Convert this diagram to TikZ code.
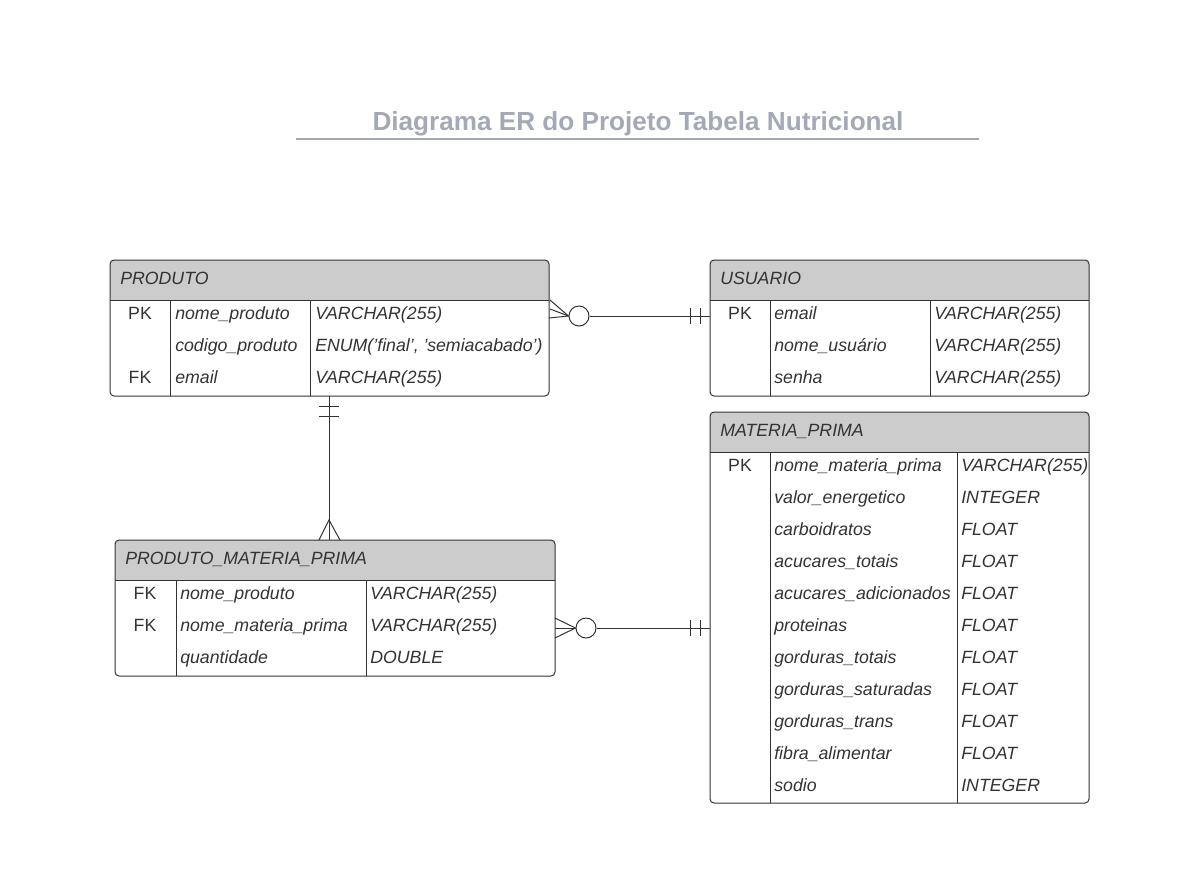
\documentclass[tikz,border=0pt]{standalone}
\usepackage{fontspec}
\setmainfont{Liberation Sans}
\usetikzlibrary{fit}
\definecolor{txt}{HTML}{333333}
\definecolor{lnc}{HTML}{333333}
\definecolor{hdrc}{HTML}{CCCCCC}
\definecolor{ttl}{HTML}{A3A9B5}
\tikzset{
  ln/.style={draw=lnc, line width=0.75pt},
  hdr/.style={fill=hdrc},
  frame/.style={draw=lnc, line width=0.75pt, rounded corners=3pt, inner sep=0pt},
  fld/.style={inner sep=0pt, text=txt, font=\fontsize{13.3}{16}\selectfont\itshape, anchor=base west},
  keyt/.style={inner sep=0pt, text=txt, font=\fontsize{13.3}{16}\selectfont, anchor=base},
  hdt/.style={inner sep=0pt, text=txt, font=\fontsize{13.3}{16}\selectfont\itshape, anchor=base west},
  zero/.style={circle, draw=lnc, line width=0.75pt, minimum size=15pt, inner sep=0pt, fill=white},
}
\newcommand\ertable[7]{%
  \fill[hdr] (#2,#3+40) [rounded corners=3pt] -- (#2,#3) -- (#4,#3) [sharp corners] -- (#4,#3+40) -- cycle;
  \node[frame, fit={(#2,#3)(#4,#5)}] (#1) {};
  \draw[ln] (#2,#3+40) -- (#4,#3+40);
  \draw[ln] (#6,#3+40) -- (#6,#5);
  \draw[ln] (#7,#3+40) -- (#7,#5);
}
\newcommand\tblrow[8]{%
  \node[keyt] (#1k) at (#3,#2+6) {#6};
  \node[fld] (#1n) at (#4,#2+6) {#7};
  \node[fld] (#1t) at (#5,#2+6) {#8};
}
\newcommand\sq{\char"27\relax}
\begin{document}
\begin{tikzpicture}[x=0.75pt,y=-0.75pt]
\useasboundingbox (0,0) rectangle (1181,886);
\fill[white] (0,0) rectangle (1181,886);

% title
\node[inner sep=0pt, text=ttl, font=\fontsize{19.6}{22}\selectfont\bfseries, anchor=base] (title) at (638,130) {Diagrama ER do Projeto Tabela Nutricional};
\coordinate (tl1) at (296,139);
\coordinate (tl2) at (979,139);
\draw[draw=ttl, line width=1.5pt] (tl1) -- (tl2);

% PRODUTO
\ertable{produto}{110}{260}{549}{396}{170}{310}
\node[hdt] (produtoh) at (120,284) {PRODUTO};
\tblrow{pa}{313}{140}{175}{315}{PK}{nome\_produto}{VARCHAR(255)}
\tblrow{pb}{345}{140}{175}{315}{}{codigo\_produto}{ENUM(\sq final\sq, \sq semiacabado\sq)}
\tblrow{pc}{377}{140}{175}{315}{FK}{email}{VARCHAR(255)}

% USUARIO
\ertable{usuario}{710}{260}{1089}{396}{770}{930}
\node[hdt] (usuarioh) at (720,284) {USUARIO};
\tblrow{ua}{313}{740}{774}{934}{PK}{email}{VARCHAR(255)}
\tblrow{ub}{345}{740}{774}{934}{}{nome\_usuário}{VARCHAR(255)}
\tblrow{uc}{377}{740}{774}{934}{}{senha}{VARCHAR(255)}

% MATERIA_PRIMA
\ertable{materia}{710}{412}{1089}{803}{770}{957}
\node[hdt] (materiah) at (720,436) {MATERIA\_PRIMA};
\tblrow{ma}{465}{740}{774}{961}{PK}{nome\_materia\_prima}{VARCHAR(255)}
\tblrow{mb}{497}{740}{774}{961}{}{valor\_energetico}{INTEGER}
\tblrow{mc}{529}{740}{774}{961}{}{carboidratos}{FLOAT}
\tblrow{md}{561}{740}{774}{961}{}{acucares\_totais}{FLOAT}
\tblrow{me}{593}{740}{774}{961}{}{acucares\_adicionados}{FLOAT}
\tblrow{mf}{625}{740}{774}{961}{}{proteinas}{FLOAT}
\tblrow{mg}{657}{740}{774}{961}{}{gorduras\_totais}{FLOAT}
\tblrow{mh}{689}{740}{774}{961}{}{gorduras\_saturadas}{FLOAT}
\tblrow{mi}{721}{740}{774}{961}{}{gorduras\_trans}{FLOAT}
\tblrow{mj}{753}{740}{774}{961}{}{fibra\_alimentar}{FLOAT}
\tblrow{mk}{785}{740}{774}{961}{}{sodio}{INTEGER}

% PRODUTO_MATERIA_PRIMA
\ertable{pmp}{115}{540}{555}{676}{176}{366}
\node[hdt] (pmph) at (125,564) {PRODUTO\_MATERIA\_PRIMA};
\tblrow{xa}{593}{145}{180}{370}{FK}{nome\_produto}{VARCHAR(255)}
\tblrow{xb}{625}{145}{180}{370}{FK}{nome\_materia\_prima}{VARCHAR(255)}
\tblrow{xc}{657}{145}{180}{370}{}{quantidade}{DOUBLE}

% connector PRODUTO -- USUARIO
\node[zero] (o1) at (579,316) {};
\coordinate (u1) at (710,316);
\coordinate (p1a) at (550,300);
\coordinate (p1b) at (550,309);
\coordinate (p1c) at (549,318);
\draw[ln] (o1) -- (u1);
\draw[ln] (p1a) -- (o1.west);
\draw[ln] (p1b) -- (o1.west);
\draw[ln] (p1c) -- (o1.west);
\draw[ln] (690,308) -- (690,324);
\draw[ln] (700,308) -- (700,324);

% connector PRODUTO -- PRODUTO_MATERIA_PRIMA
\coordinate (p2) at (329,396);
\coordinate (x2) at (329,540);
\coordinate (x2m) at (329,520);
\draw[ln] (p2) -- (x2);
\draw[ln] (319,406) -- (339,406);
\draw[ln] (319,416) -- (339,416);
\draw[ln] (319,540) -- (x2m) -- (340,540);

% connector PRODUTO_MATERIA_PRIMA -- MATERIA_PRIMA
\node[zero] (o3) at (586,628) {};
\coordinate (m3) at (710,628);
\draw[ln] (o3) -- (m3);
\draw[ln] (555,618) -- (o3.west);
\draw[ln] (555,628) -- (o3.west);
\draw[ln] (555,638) -- (o3.west);
\draw[ln] (690,620) -- (690,636);
\draw[ln] (700,620) -- (700,636);
\end{tikzpicture}
\end{document}
